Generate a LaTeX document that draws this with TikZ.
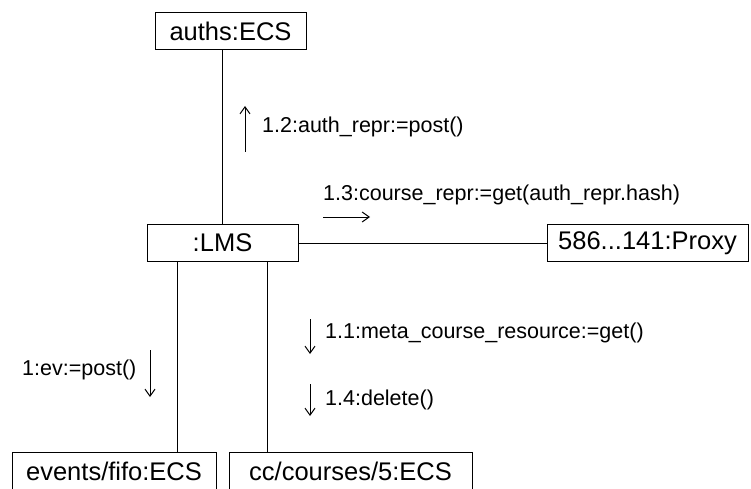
\documentclass[tikz,border=0pt]{standalone}
\usepackage{fontspec}
\setmainfont{Liberation Sans}
\usetikzlibrary{arrows.meta}
\begin{document}
\begin{tikzpicture}[x=1pt,y=-1pt,
  obj/.style={draw, line width=1pt, inner sep=0pt, minimum height=37pt, font=\fontsize{25.5}{30}\selectfont},
  msg/.style={inner sep=0pt, anchor=west, font=\fontsize{21.5}{25}\selectfont},
  link/.style={line width=1pt},
  flow/.style={line width=1pt, -{Straight Barb[length=7pt,width=10pt]}}]
\useasboundingbox (0,0) rectangle (751,489);
\clip (0,0) rectangle (751,489);
\node[obj, minimum width=151pt] (auths) at (230.5,31.5) {auths:ECS};
\node[obj, minimum width=151pt] (lms) at (222.5,243) {:LMS};
\node[obj, minimum width=201pt] (proxy) at (647.5,243) {586...141:Proxy};
\node[obj, minimum width=204pt] (events) at (114,471) {events/fifo:ECS};
\node[obj, minimum width=243pt] (cc) at (350.5,471) {cc/courses/5:ECS};
\draw[link] (lms.north) -- (lms.north |- auths.south);
\draw[link] (lms.east) -- (proxy.west);
\coordinate (la) at ([xshift=31pt]lms.south west);
\coordinate (lb) at ([xshift=121pt]lms.south west);
\draw[link] (la) -- (la |- events.north);
\draw[link] (lb) -- (lb |- cc.north);
\node[msg] (m12) at (262,127) {1.2:auth\_repr:=post()};
\draw[flow] (245,152) -- (245,106);
\node[msg] (m13) at (323,195) {1.3:course\_repr:=get(auth\_repr.hash)};
\draw[flow] (323,217) -- (370,217);
\node[msg] (m11) at (325,333) {1.1:meta\_course\_resource:=get()};
\draw[flow] (310,319) -- (310,354);
\node[msg] (m14) at (325,400) {1.4:delete()};
\draw[flow] (310,384) -- (310,416);
\node[msg] (m1) at (22,370) {1:ev:=post()};
\draw[flow] (150,350) -- (150,397);
\end{tikzpicture}
\end{document}
